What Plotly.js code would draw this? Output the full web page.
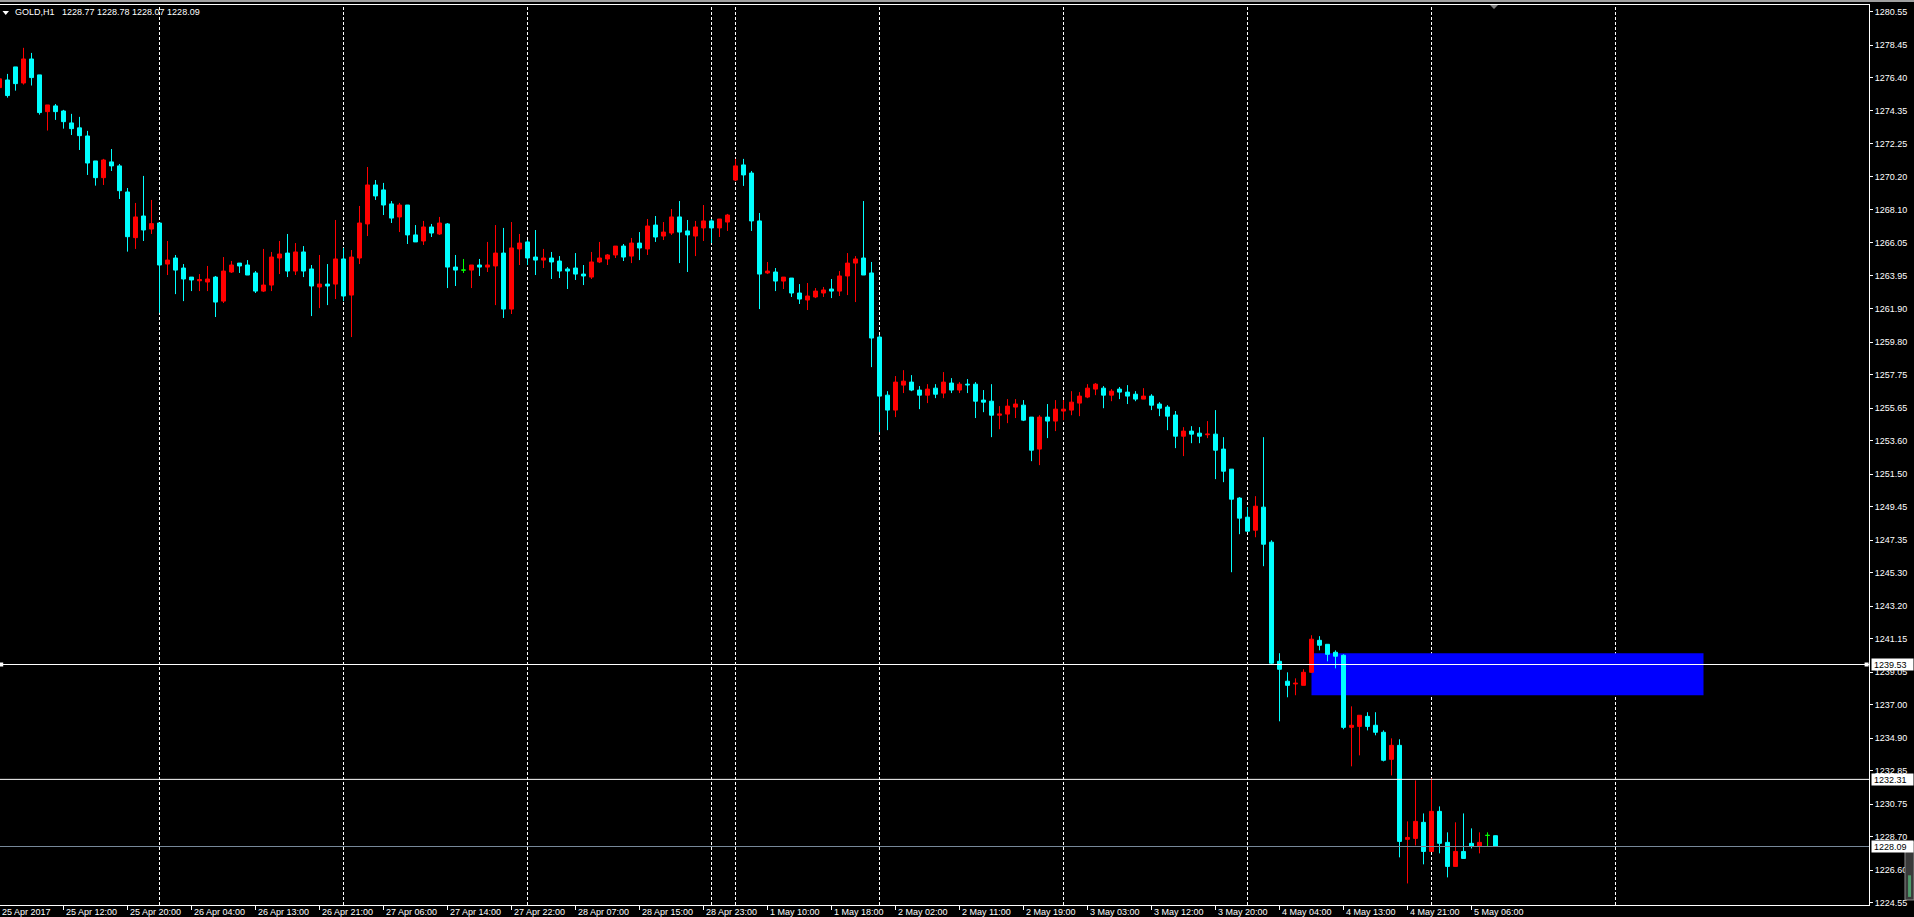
<!DOCTYPE html>
<html>
<head>
<meta charset="utf-8">
<script src="https://cdn.plot.ly/plotly-3.0.1.min.js"></script>
<style>
  html, body { margin: 0; padding: 0; background: #000000; overflow: hidden; }
  #chart { width: 1914px; height: 917px; }
</style>
</head>
<body>
<div id="chart"></div>
<script>
// ---------------- DATA (GOLD, H1) ----------------
const symbolTitle = 'GOLD,H1';
const firstBar = -1; // index of first (partially visible) bar

const open = [
  1275.79,1276.27,1277.09,1276.08,1277.59,1276.59,1274.28,1274.64,1274.32,1273.57,
  1273.26,1272.75,1271.18,1270.13,1271.12,1270.87,1269.23,1266.36,1267.72,1266.90,
  1267.28,1264.70,1265.08,1264.45,1263.88,1263.65,1263.57,1263.88,1262.37,1264.20,
  1264.76,1264.64,1264.14,1263.00,1263.38,1265.08,1265.39,1264.26,1265.46,1264.39,
  1263.26,1263.44,1263.44,1265.02,1262.75,1265.08,1267.22,1269.67,1269.36,1268.48,
  1267.66,1268.41,1266.53,1266.15,1267.03,1266.59,1267.22,1264.51,1264.32,1264.32,
  1264.64,1264.51,1264.58,1265.39,1261.87,1265.65,1266.09,1265.14,1264.95,1265.08,
  1264.89,1264.39,1264.45,1264.07,1263.88,1264.83,1265.02,1265.27,1265.83,1265.20,
  1266.02,1265.65,1267.15,1266.46,1266.65,1267.66,1266.78,1266.46,1266.97,1267.41,
  1266.97,1267.34,1269.98,1270.93,1270.42,1267.41,1264.14,1264.20,1263.63,1263.82,
  1262.88,1262.44,1262.63,1262.88,1263.13,1263.00,1263.95,1264.76,1265.08,1264.14,
  1260.11,1256.46,1255.52,1257.09,1257.28,1256.78,1256.46,1256.90,1256.59,1257.22,
  1256.78,1257.15,1257.15,1256.15,1256.08,1255.20,1255.27,1255.71,1255.83,1255.08,
  1253.07,1255.08,1254.83,1255.46,1255.52,1255.96,1256.34,1256.84,1256.90,1256.46,
  1256.84,1256.65,1256.52,1256.21,1256.40,1255.90,1255.71,1255.21,1253.88,1254.20,
  1254.07,1253.97,1254.01,1253.07,1251.81,1249.99,1248.79,1247.97,1249.42,1247.22,
  1239.73,1238.48,1238.31,1238.22,1239.04,1241.05,1240.80,1240.30,1240.11,1235.58,
  1235.64,1236.27,1235.71,1235.27,1233.57,1234.45,1228.54,1228.60,1229.61,1227.78,
  1230.30,1228.35,1226.84,1227.78,1228.29,1228.10,1228.79,1228.77
];
const high = [
  1276.45,1276.65,1277.09,1278.29,1277.97,1276.59,1274.70,1274.76,1274.39,1274.14,
  1273.95,1273.07,1271.18,1271.31,1271.93,1270.99,1269.48,1268.54,1270.24,1268.73,
  1267.28,1266.15,1265.27,1264.70,1263.88,1264.07,1264.58,1263.95,1265.14,1264.89,
  1264.76,1264.95,1264.26,1265.65,1265.46,1266.15,1266.59,1266.02,1265.83,1264.64,
  1265.27,1264.70,1267.47,1265.71,1265.58,1268.35,1270.80,1269.98,1269.80,1268.66,
  1268.54,1268.41,1267.15,1267.41,1267.22,1267.66,1267.28,1265.27,1265.02,1264.64,
  1265.02,1266.09,1267.15,1266.97,1267.34,1266.59,1266.21,1266.84,1265.65,1265.46,
  1265.20,1264.51,1265.39,1264.64,1265.46,1266.09,1265.33,1265.83,1265.96,1266.34,
  1266.71,1267.53,1267.72,1267.34,1268.16,1268.66,1267.47,1267.41,1268.41,1267.53,
  1267.53,1267.85,1271.31,1271.31,1270.55,1267.91,1264.83,1264.45,1263.88,1263.82,
  1263.44,1263.51,1263.19,1263.26,1263.76,1264.26,1265.39,1265.20,1268.66,1264.83,
  1260.24,1256.71,1257.66,1258.03,1257.72,1257.03,1257.15,1257.15,1257.91,1257.53,
  1257.28,1257.47,1257.28,1256.78,1257.15,1255.77,1256.21,1256.21,1256.15,1255.08,
  1255.20,1255.90,1256.15,1256.15,1256.71,1256.65,1257.15,1257.22,1257.03,1256.84,
  1256.97,1257.09,1256.71,1256.90,1256.52,1256.02,1255.83,1255.46,1254.45,1254.51,
  1254.45,1254.83,1255.52,1253.82,1251.81,1250.05,1249.42,1250.11,1253.82,1247.34,
  1240.24,1239.04,1238.66,1239.23,1241.37,1241.31,1240.80,1240.42,1240.17,1236.90,
  1236.34,1236.53,1236.53,1235.39,1234.89,1234.83,1229.67,1232.25,1230.17,1232.37,
  1230.61,1228.98,1229.61,1230.17,1229.23,1228.98,1228.98,1228.78
];
const low = [
  1275.70,1275.16,1275.60,1275.98,1275.92,1274.09,1273.09,1273.76,1273.21,1272.81,
  1271.87,1270.30,1269.63,1269.67,1270.55,1268.79,1265.48,1265.65,1266.15,1266.59,
  1261.64,1264.01,1262.81,1262.37,1263.00,1263.00,1263.00,1261.37,1262.25,1264.14,
  1264.14,1264.01,1262.88,1262.94,1263.00,1264.07,1263.88,1264.01,1263.88,1261.43,
  1261.93,1262.12,1262.50,1262.37,1260.11,1264.70,1266.46,1268.73,1267.78,1267.28,
  1266.71,1265.96,1266.09,1265.90,1266.40,1266.53,1263.19,1263.32,1264.14,1263.19,
  1263.95,1264.20,1262.12,1261.31,1261.56,1264.64,1264.64,1264.01,1264.45,1263.76,
  1263.82,1263.13,1263.70,1263.38,1263.76,1264.76,1264.64,1265.08,1264.89,1264.76,
  1264.95,1265.27,1266.09,1266.21,1266.53,1264.76,1264.20,1265.20,1266.15,1266.02,
  1266.40,1266.78,1269.92,1269.61,1266.78,1261.87,1264.07,1263.00,1263.13,1262.63,
  1262.19,1261.81,1262.56,1262.63,1262.56,1262.69,1262.75,1262.31,1264.01,1258.22,
  1254.14,1254.26,1255.08,1256.59,1256.71,1255.58,1255.96,1256.27,1256.27,1256.59,
  1256.59,1256.59,1255.02,1255.39,1253.82,1254.32,1254.70,1255.02,1254.83,1252.31,
  1252.06,1253.76,1254.20,1254.89,1255.20,1255.14,1256.27,1256.46,1255.64,1256.08,
  1256.21,1255.90,1256.08,1256.21,1255.52,1255.14,1254.26,1253.13,1252.63,1253.44,
  1253.44,1253.76,1251.18,1250.99,1245.33,1247.72,1247.91,1247.53,1245.71,1239.55,
  1235.96,1237.47,1237.60,1238.22,1239.00,1240.42,1239.73,1239.29,1235.46,1233.13,
  1233.82,1235.39,1235.08,1233.44,1232.56,1227.41,1225.77,1228.16,1226.97,1227.78,
  1227.66,1226.15,1226.84,1227.34,1227.97,1227.66,1228.10,1228.07
];
const close = [
  1276.34,1275.29,1276.04,1277.59,1276.42,1274.22,1274.70,1274.28,1273.65,1273.21,
  1272.77,1271.05,1270.13,1271.24,1270.87,1269.31,1266.42,1267.66,1266.84,1267.24,
  1264.64,1264.95,1264.32,1263.76,1263.70,1263.72,1263.76,1262.31,1264.26,1264.64,
  1264.58,1264.01,1263.00,1263.38,1265.14,1265.33,1264.26,1265.46,1264.26,1263.32,
  1263.44,1263.32,1265.02,1262.69,1265.14,1267.28,1269.67,1268.98,1268.41,1267.59,
  1268.41,1266.53,1266.09,1267.03,1266.65,1267.28,1264.51,1264.32,1264.32,1264.64,
  1264.51,1264.64,1265.39,1261.87,1265.71,1266.02,1265.08,1264.95,1265.08,1264.83,
  1264.26,1264.26,1264.07,1263.95,1264.83,1265.08,1265.27,1265.83,1265.14,1266.02,
  1265.71,1267.09,1266.40,1266.71,1267.66,1266.71,1266.53,1267.03,1267.41,1266.97,
  1267.53,1267.78,1270.87,1270.30,1267.41,1264.07,1264.26,1263.63,1263.88,1262.88,
  1262.50,1262.69,1263.00,1263.07,1263.00,1263.95,1264.76,1265.02,1264.01,1260.05,
  1256.40,1255.52,1257.28,1257.34,1256.78,1256.46,1256.84,1256.52,1257.28,1256.78,
  1257.15,1257.11,1256.08,1256.02,1255.20,1255.27,1255.77,1255.90,1254.89,1253.00,
  1255.08,1254.83,1255.58,1255.58,1256.02,1256.40,1256.90,1257.15,1256.46,1256.71,
  1256.65,1256.40,1256.21,1256.40,1255.83,1255.64,1255.14,1253.88,1254.20,1254.01,
  1253.88,1254.01,1253.00,1251.68,1249.92,1248.73,1247.91,1249.48,1247.09,1239.61,
  1239.23,1238.22,1238.35,1239.04,1241.12,1240.74,1240.17,1240.05,1235.58,1235.71,
  1236.34,1235.64,1235.27,1233.51,1234.45,1228.41,1228.66,1229.67,1227.78,1230.30,
  1228.29,1226.84,1227.78,1227.34,1228.10,1228.35,1228.79,1228.09
];

// time-axis labels (bar index, text)
const timeLabelBars = [-1, 7, 15, 23, 31, 39, 47, 55, 63, 71, 79, 87, 95, 103, 111, 119, 127, 135, 143, 151, 159, 167, 175, 183];
const timeLabelText = ['25 Apr 2017','25 Apr 12:00','25 Apr 20:00','26 Apr 04:00','26 Apr 13:00','26 Apr 21:00',
  '27 Apr 06:00','27 Apr 14:00','27 Apr 22:00','28 Apr 07:00','28 Apr 15:00','28 Apr 23:00',
  '1 May 10:00','1 May 18:00','2 May 02:00','2 May 11:00','2 May 19:00','3 May 03:00',
  '3 May 12:00','3 May 20:00','4 May 04:00','4 May 13:00','4 May 21:00','5 May 06:00'];

// price-axis labels
const priceLabels = ['1280.55','1278.45','1276.40','1274.35','1272.25','1270.20','1268.10','1266.05','1263.95',
  '1261.90','1259.80','1257.75','1255.65','1253.60','1251.50','1249.45','1247.35','1245.30','1243.20',
  '1241.15','1239.05','1237.00','1234.90','1232.85','1230.75','1228.70','1226.60','1224.55'];

// day (period) separators, bar indices
const separatorBars = [19, 42, 65, 88, 91, 109, 132, 155, 178, 201];

// horizontal lines
const levelPrices = [1239.53, 1232.31, 1228.09];
const levelColors = ['#ffffff', '#ffffff', '#778899'];

// rectangle zone
const zoneBars = [163, 212];
const zonePrices = [1237.59, 1240.24];

// visible window
const xRange = [-0.9375, 232.6875];
const yRange = [1224.414, 1280.982];

// ---------------- BUILD ----------------
const FONT = 'Liberation Sans, Arial, sans-serif';
const xs = open.map((_, i) => firstBar + i);
const isDoji = open.map((o, i) => o === close[i]);
function pick(arr, wantDoji) { return arr.filter((_, i) => isDoji[i] === wantDoji); }

const mainTrace = {
  type: 'candlestick',
  x: pick(xs, false), open: pick(open, false), high: pick(high, false),
  low: pick(low, false), close: pick(close, false),
  increasing: { line: { color: '#ff0000', width: 1 }, fillcolor: '#ff0000' },
  decreasing: { line: { color: '#00ffff', width: 1 }, fillcolor: '#00ffff' },
  whiskerwidth: 0, hoverinfo: 'skip', showlegend: false
};
const dojiTrace = {
  type: 'candlestick',
  x: pick(xs, true), open: pick(open, true), high: pick(high, true),
  low: pick(low, true), close: pick(close, true),
  increasing: { line: { color: '#00ff00', width: 1 }, fillcolor: '#00ff00' },
  decreasing: { line: { color: '#00ff00', width: 1 }, fillcolor: '#00ff00' },
  whiskerwidth: 0, hoverinfo: 'skip', showlegend: false
};
// handles on the selected line
const handleTrace = {
  type: 'scatter', mode: 'markers',
  x: [xRange[0] + 0.15, xRange[1] - 0.3], y: [levelPrices[0], levelPrices[0]],
  marker: { symbol: 'square', size: 4, color: '#ffffff', line: { width: 0 } },
  cliponaxis: false, hoverinfo: 'skip', showlegend: false
};

const shapes = [];
separatorBars.forEach(b => shapes.push({
  type: 'line', xref: 'x', yref: 'paper', x0: b, x1: b, y0: 0, y1: 1,
  line: { color: '#ffffff', width: 1, dash: '3px,2px' }, layer: 'below'
}));
shapes.push({
  type: 'rect', xref: 'x', yref: 'y', x0: zoneBars[0], x1: zoneBars[1], y0: zonePrices[0], y1: zonePrices[1],
  fillcolor: '#0000ff', line: { width: 0 }, layer: 'below'
});
levelPrices.forEach((p, i) => shapes.push({
  type: 'line', xref: 'paper', yref: 'y', x0: 0, x1: 1, y0: p, y1: p,
  line: { color: levelColors[i], width: 1 }, layer: 'above'
}));
// window frame (gray band on top)
shapes.push({ type: 'rect', xref: 'paper', yref: 'paper', x0: 0, x1: 1914 / 1869, y0: 1 + 3 / 900, y1: 1 + 5 / 900,
  fillcolor: '#a0a0a0', line: { width: 0 } });
// header triangle
shapes.push({ type: 'path', xref: 'paper', yref: 'paper',
  path: 'M 0.00134 0.99333 L 0.00482 0.99333 L 0.00308 0.98889 Z', fillcolor: '#ffffff', line: { width: 0 } });
// chart-shift marker
shapes.push({ type: 'path', xref: 'paper', yref: 'paper',
  path: 'M 0.79722 1 L 0.80150 1 L 0.79936 0.99556 Z', fillcolor: '#808080', line: { width: 0 } });
// small indicator widget bottom right
shapes.push({ type: 'rect', xref: 'paper', yref: 'paper', x0: 1.01926, x1: 1.02408, y0: 0.0056, y1: 0.07,
  fillcolor: '#3a3a3a', line: { color: '#8a8a8a', width: 1 } });
shapes.push({ type: 'rect', xref: 'paper', yref: 'paper', x0: 1.0209, x1: 1.0225, y0: 0.009, y1: 0.033,
  fillcolor: '#4f9a6a', line: { width: 0 } });

const annotations = [];
annotations.push({
  xref: 'paper', yref: 'paper', x: 14 / 1869, y: 1 - 7.5 / 900, xanchor: 'left', yanchor: 'middle',
  text: symbolTitle + '\u00a0\u00a0\u00a0' + [open[open.length - 1], high[high.length - 1], low[low.length - 1], close[close.length - 1]].map(v => v.toFixed(2)).join('\u00a0'),
  showarrow: false, font: { family: FONT, size: 9, color: '#ffffff' }, borderpad: 0
});
timeLabelBars.forEach((b, i) => annotations.push({
  xref: b < xRange[0] ? 'paper' : 'x', x: b < xRange[0] ? 0 : b,
  yref: 'paper', y: 0, xanchor: 'left', yanchor: 'top',
  text: timeLabelText[i], showarrow: false, borderpad: 1,
  font: { family: FONT, size: 9, color: '#ffffff' }
}));
levelPrices.forEach(p => annotations.push({
  xref: 'paper', x: 1, xshift: 2, xanchor: 'left', yref: 'y', y: p, yanchor: 'middle',
  text: p.toFixed(2), showarrow: false, bgcolor: '#ffffff', borderpad: 2, width: 37, height: 7, align: 'left',
  font: { family: FONT, size: 9, color: '#000000' }
}));

const layout = {
  width: 1914, height: 917,
  margin: { l: 0, r: 45, t: 5, b: 12, pad: 0 },
  paper_bgcolor: '#000000', plot_bgcolor: '#000000',
  showlegend: false, dragmode: false,
  boxgap: 0.5, boxgroupgap: 0,
  xaxis: {
    type: 'linear', range: xRange, autorange: false, fixedrange: true,
    showgrid: false, zeroline: false,
    showline: true, mirror: true, linecolor: '#ffffff', linewidth: 1,
    tickmode: 'array', tickvals: timeLabelBars.filter(b => b >= xRange[0]),
    ticks: 'outside', ticklen: 4, tickcolor: '#ffffff', tickwidth: 1,
    showticklabels: false,
    rangeslider: { visible: false }
  },
  yaxis: {
    type: 'linear', side: 'right', range: yRange, autorange: false, fixedrange: true,
    showgrid: false, zeroline: false,
    showline: true, linecolor: '#ffffff', linewidth: 1,
    tickmode: 'array', tickvals: priceLabels.map(Number), ticktext: priceLabels,
    ticks: 'outside', ticklen: 3, tickcolor: '#ffffff', tickwidth: 1,
    tickfont: { family: FONT, size: 9, color: '#ffffff' }
  },
  shapes: shapes,
  annotations: annotations
};

Plotly.newPlot('chart', [mainTrace, dojiTrace, handleTrace], layout, { staticPlot: true, displayModeBar: false });
</script>
</body>
</html>
